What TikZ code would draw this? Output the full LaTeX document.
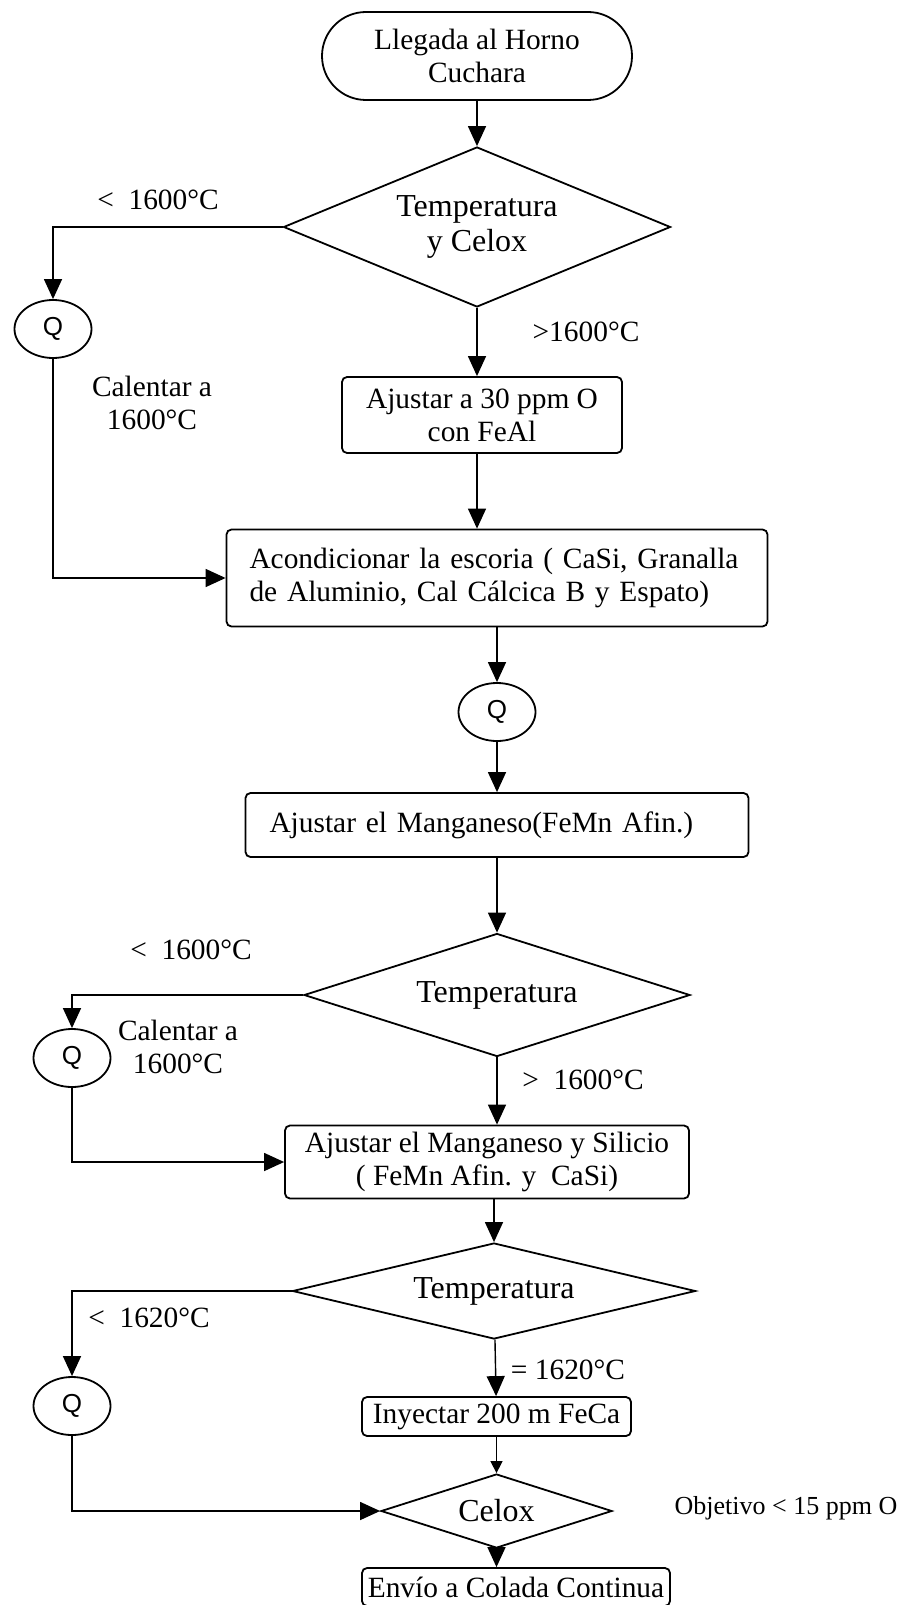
\documentclass[tikz,border=0pt]{standalone}
\usepackage{fontspec}
\setmainfont{Liberation Serif}
\newfontfamily\qfont{Liberation Sans}
\usetikzlibrary{shapes.geometric,arrows.meta}

\begin{document}
\begin{tikzpicture}[x=0.5pt,y=-0.5pt,
    proceso/.style={draw=black,line width=0.9pt,rounded corners=2.5pt,inner sep=0pt,font=\fontsize{14.7}{16.5}\selectfont,align=center},
    terminal/.style={proceso,rounded corners=22pt},
    decision/.style={draw=black,line width=0.9pt,shape=diamond,inner sep=0pt,font=\fontsize{16}{17.5}\selectfont,align=center},
    calor/.style={draw=black,line width=0.9pt,shape=ellipse,inner sep=0pt,minimum width=38.5pt,minimum height=29pt,font=\qfont\fontsize{13}{15}\selectfont},
    etiqueta/.style={inner sep=0pt,font=\fontsize{14.7}{16.5}\selectfont,align=center},
    flecha/.style={-{Triangle[length=10pt,width=9pt]},line width=0.7pt},
    flechita/.style={-{Triangle[length=6pt,width=6pt]},line width=0.7pt}]
\useasboundingbox (0,0) rectangle (901,1605);

                    \node[terminal,minimum width=155pt,minimum height=44pt] (llegada) at (477,56) {Llegada al Horno\\Cuchara};
                    \node[decision,shape aspect=2.42,minimum width=193.5pt,minimum height=80pt] (tempcelox) at (477,227) {Temperatura\\y Celox};
                    \node[calor] (q1) at (53,329) {Q};
                    \node[proceso,minimum width=140pt,minimum height=38pt] (ajustaro) at (482,415) {Ajustar a 30 ppm O\\con FeAl};
                    \node[proceso,minimum width=270.5pt,minimum height=48.5pt,text width=247.5pt,align=left] (acond) at (497,578) {Acondicionar la escoria ( CaSi, Granalla\\de Aluminio, Cal Cálcica B y Espato)};
                    \node[calor] (q2) at (497,712) {Q};
                    \node[proceso,minimum width=251.5pt,minimum height=32pt,text width=227.5pt,align=left] (mnfe) at (497,825) {Ajustar el Manganeso(FeMn Afin.)};
                    \node[decision,shape aspect=3.14,minimum width=193pt,minimum height=61.5pt] (temp2) at (497,995) {Temperatura};
                    \node[calor] (q3) at (72,1058) {Q};
                    \node[proceso,minimum width=202pt,minimum height=36.5pt] (mnsi) at (487,1162) {Ajustar el Manganeso y Silicio\\( FeMn Afin. y \ CaSi)};
                    \node[decision,shape aspect=4.2,minimum width=201.5pt,minimum height=48pt] (temp3) at (494,1291) {Temperatura};
                    \node[calor] (q4) at (72,1406) {Q};
                    \node[proceso,minimum width=134.5pt,minimum height=19.5pt] (inyectar) at (496.5,1416.5) {Inyectar 200 m FeCa};
                    \node[decision,shape aspect=3.12,minimum width=115.5pt,minimum height=37pt] (celox) at (496.5,1511) {Celox};
                    \node[proceso,minimum width=154pt,minimum height=19pt] (envio) at (516,1587) {Envío a Colada Continua};

                    % etiquetas de las ramas
                    \node[etiqueta] (menor1) at (158,200) {<\ \ 1600°C};
                    \node[etiqueta] (mayor1) at (586,332) {>1600°C};
                    \node[etiqueta] (calentar1) at (152,403) {Calentar a\\1600°C};
                    \node[etiqueta] (menor2) at (191,950) {<\ \ 1600°C};
                    \node[etiqueta] (calentar2) at (178,1047) {Calentar a\\1600°C};
                    \node[etiqueta] (mayor2) at (583,1080) {>\ \ 1600°C};
                    \node[etiqueta] (menor3) at (149,1318) {<\ \ 1620°C};
                    \node[etiqueta] (igual3) at (568,1370) {= 1620°C};
                    \node[etiqueta,font=\fontsize{13}{15}\selectfont] (objetivo) at (786,1508) {Objetivo < 15 ppm O};

                    \draw[flecha] (llegada) -- (tempcelox);
                    \draw[flecha] (tempcelox.west) -| (q1);
                    \draw[flecha] (tempcelox.south) -- (tempcelox.south |- ajustaro.north);
                    \draw[flecha] (ajustaro.south -| tempcelox.south) -- (acond.north -| tempcelox.south);
                    \draw[flecha] (q1) |- (acond.west);
                    \draw[flecha] (acond) -- (q2);
                    \draw[flecha] (q2) -- (mnfe);
                    \draw[flecha] (mnfe) -- (temp2);
                    \draw[flecha] (temp2.west) -| (q3);
                    \draw[flecha] (temp2.south) -- (temp2.south |- mnsi.north);
                    \draw[flecha] (q3) |- (mnsi.west);
                    \draw[flecha] (mnsi.south -| temp3.north) -- (temp3.north);
                    \draw[flecha] (temp3.west) -| (q4);
                    \draw[flecha] (temp3) -- (inyectar);
                    \draw[flechita] (inyectar) -- (celox);
                    \draw[flecha] (q4) |- (celox.west);
                    \draw[flecha] (celox.south) -- (celox.south |- envio.north);
                \end{tikzpicture}
\end{document}
